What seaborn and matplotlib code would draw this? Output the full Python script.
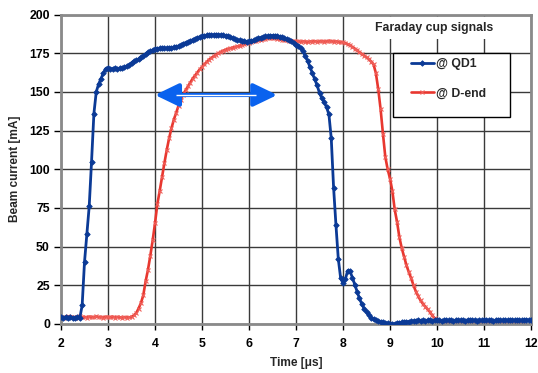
import numpy as np
import pandas as pd
import matplotlib
matplotlib.use("Agg")
import matplotlib.pyplot as plt
from matplotlib.patches import Rectangle
import seaborn as sns

# ---------------- data (sampled every 0.05 us starting at 2.0 us) ----------------
t_start = 2.0
t_step = 0.05

qd1_values = [
    4.5, 4.0, 4.6, 3.8, 4.3, 4.1, 3.7, 4.4, 3.9, 12.0,            # 2.00-2.45
    40.0, 58.0, 76.0, 105.0, 136.0, 150.0, 155.0, 158.5, 162.0, 165.0,  # 2.50-2.95
    165.5, 164.8, 165.0, 165.5, 164.8, 165.2, 165.6, 166.0, 166.5, 167.5,  # 3.00-3.45
    168.8, 169.8, 170.5, 171.2, 172.3, 173.5, 174.6, 175.5, 176.3, 177.0,  # 3.50-3.95
    177.6, 178.0, 178.2, 178.1, 178.3, 178.2, 178.5, 178.4, 178.8, 179.2,  # 4.00-4.45
    179.6, 180.3, 181.2, 181.8, 182.3, 183.0, 183.6, 184.3, 185.0, 185.5,  # 4.50-4.95
    185.9, 186.3, 186.6, 186.8, 186.8, 186.9, 187.0, 186.9, 186.8, 186.6,  # 5.00-5.45
    186.2, 185.8, 185.4, 184.8, 184.2, 183.6, 183.2, 182.8, 182.6, 182.5,  # 5.50-5.95
    182.6, 182.9, 183.4, 184.0, 184.6, 185.1, 185.6, 185.9, 186.1, 186.3,  # 6.00-6.45
    186.4, 186.3, 186.1, 185.7, 185.2, 184.6, 184.0, 183.4, 182.6, 181.6,  # 6.50-6.95
    180.6, 179.8, 178.2, 176.2, 173.0, 169.8, 165.8, 162.0, 158.0, 154.2,  # 7.00-7.45
    149.2, 146.0, 143.4, 140.0, 135.5, 120.0, 88.0, 64.0, 42.0, 29.6,      # 7.50-7.95
    26.4, 29.0, 34.5, 34.0, 30.0, 25.5, 21.0, 16.5, 13.0, 10.0,           # 8.00-8.45
    7.6, 5.6, 4.2, 3.2, 2.3, 1.8, 1.3, 1.0, 0.8, 0.6,                     # 8.50-8.95
    0.3, 0.0, 0.2, 0.6, 0.8, 1.0, 1.2, 1.4, 1.6, 1.8,                     # 9.00-9.45
    2.0, 2.1, 2.3, 2.2, 2.4, 2.1, 2.3, 2.5, 2.2, 2.4,                     # 9.50-9.95
    2.3, 2.5, 2.2, 2.4, 2.6, 2.3, 2.5, 2.2, 2.4, 2.3,                     # 10.00-10.45
    2.5, 2.4, 2.2, 2.6, 2.3, 2.5, 2.4, 2.2, 2.5, 2.3,                     # 10.50-10.95
    2.4, 2.6, 2.3, 2.5, 2.2, 2.4, 2.7, 2.5, 2.3, 2.6,                     # 11.00-11.45
    2.4, 2.5, 2.7, 2.4, 2.6, 2.5, 2.3, 2.6, 2.8, 2.5,                     # 11.50-11.95
    2.6,                                                                  # 12.00
]

dend_values = [
    4.8, 4.2, 4.5, 4.9, 4.3, 4.6, 4.1, 4.7, 5.0, 4.4,                     # 2.00-2.45
    4.6, 4.2, 4.8, 4.5, 4.3, 4.9, 4.4, 4.6, 4.1, 4.7,                     # 2.50-2.95
    4.5, 4.3, 4.8, 4.2, 4.6, 4.4, 4.0, 4.5, 4.2, 4.3,                     # 3.00-3.45
    4.6, 5.5, 7.0, 10.0, 13.5, 18.5, 27.5, 35.0, 44.0, 54.0,              # 3.50-3.95
    65.0, 77.5, 86.0, 95.0, 104.0, 112.5, 120.0, 126.5, 132.0, 136.5,     # 4.00-4.45
    141.0, 145.0, 148.3, 151.0, 153.5, 156.0, 158.5, 160.5, 162.5, 164.5, # 4.50-4.95
    166.0, 167.8, 169.3, 170.8, 172.0, 173.0, 174.0, 175.0, 175.8, 176.6, # 5.00-5.45
    177.2, 177.8, 178.2, 178.6, 179.0, 179.4, 179.8, 180.3, 180.8, 181.3, # 5.50-5.95
    181.8, 182.2, 182.7, 183.1, 183.5, 183.8, 184.1, 184.3, 184.5, 184.6, # 6.00-6.45
    184.6, 184.5, 184.3, 184.1, 183.8, 183.5, 183.3, 183.1, 182.9, 182.8, # 6.50-6.95
    182.6, 182.6, 182.4, 182.7, 182.5, 182.3, 182.6, 182.5, 182.8, 182.4, # 7.00-7.45
    182.6, 182.7, 182.5, 182.6, 182.9, 182.7, 182.5, 182.6, 182.4, 182.2, # 7.50-7.95
    182.0, 181.5, 180.8, 180.0, 179.0, 178.0, 176.8, 175.6, 174.5, 173.4, # 8.00-8.45
    172.3, 171.2, 169.5, 167.8, 162.0, 151.7, 138.8, 123.0, 108.0, 100.0, # 8.50-8.95
    94.0, 86.0, 74.0, 66.0, 56.0, 49.0, 43.6, 38.0, 33.5, 29.5,           # 9.00-9.45
    25.0, 21.0, 18.0, 15.2, 13.0, 11.2, 9.5, 7.8, 5.5, 3.8,               # 9.50-9.95
    2.6, 1.8, 1.1, 0.6, 0.3, 0.1, 0.0, -0.2, 0.1, -0.1,                   # 10.00-10.45
    0.0, -0.2, 0.1, 0.0, -0.1, 0.2, -0.2, 0.0, 0.1, -0.1,                 # 10.50-10.95
    0.0, -0.2, 0.1, -0.1, 0.0, 0.2, -0.1, 0.0, -0.2, 0.1,                 # 11.00-11.45
    0.0, -0.1, 0.1, -0.2, 0.0, 0.1, -0.1, 0.0,                            # 11.50-11.85
]

series_labels = ["@ QD1", "@ D-end"]
x_ticks = [2, 3, 4, 5, 6, 7, 8, 9, 10, 11, 12]
y_ticks = [0, 25, 50, 75, 100, 125, 150, 175, 200]

t_qd1 = t_start + t_step * np.arange(len(qd1_values))
t_dend = t_start + t_step * np.arange(len(dend_values))
df_qd1 = pd.DataFrame({"t": t_qd1, "I": qd1_values})
df_dend = pd.DataFrame({"t": t_dend, "I": dend_values})

# ---------------- style ----------------
sns.set_style("white")
plt.rcParams["font.family"] = ["Liberation Sans", "DejaVu Sans"]
plt.rcParams["font.weight"] = "bold"

W, H = 538, 373
fig = plt.figure(figsize=(W / 100, H / 100), dpi=100)
ax = fig.add_axes([61 / W, 1 - 324 / H, 470 / W, (324 - 14.5) / H])

blue = "#0b3a96"
red = "#e8372f"

sns.lineplot(data=df_qd1, x="t", y="I", ax=ax, color=blue, linewidth=2.0,
             marker="D", markersize=2.8, markeredgewidth=0.6, markeredgecolor=blue,
             label=series_labels[0], estimator=None, sort=False, zorder=3)
sns.lineplot(data=df_dend, x="t", y="I", ax=ax, color=red, linewidth=1.9,
             marker="x", markersize=3.4, markeredgewidth=0.8, markeredgecolor="#f0605a",
             label=series_labels[1], estimator=None, sort=False, zorder=2)

ax.set_xlim(2, 12)
ax.set_ylim(0, 200)
ax.set_xticks(x_ticks)
ax.set_yticks(y_ticks)
ax.grid(True, color="#3a3a3a", linewidth=1.0)
ax.set_axisbelow(True)
for s in ax.spines.values():
    s.set_color("#8a8a8a")
    s.set_linewidth(2.0)

ax.tick_params(axis="both", which="major", labelsize=8.8, colors="black",
               direction="out", length=4, width=1, bottom=True, left=True)
ax.tick_params(axis="x", pad=6)
ax.tick_params(axis="y", pad=3, length=5)
for lab in ax.get_xticklabels() + ax.get_yticklabels():
    lab.set_fontweight("bold")

ax.set_xlabel("Time [\u03bcs]", fontsize=8.6, fontweight="bold", labelpad=5)
ax.set_ylabel("Beam current [mA]", fontsize=8.6, fontweight="bold", labelpad=6)

# title text inside the plot with white background
ax.text(0.794, 0.957, "Faraday cup signals", transform=ax.transAxes,
        ha="center", va="center", fontsize=8.8, fontweight="bold", zorder=6,
        bbox=dict(facecolor="white", edgecolor="none", pad=3.5))

# legend box
ax.add_patch(Rectangle((0.706, 0.668), 0.249, 0.207, transform=ax.transAxes,
                       facecolor="white", edgecolor="black", linewidth=1.0, zorder=5))
leg = ax.legend(loc="upper left", bbox_to_anchor=(0.745, 0.858), frameon=False,
                fontsize=8.8, handlelength=1.85, handletextpad=0.2,
                labelspacing=1.4, borderpad=0, borderaxespad=0)
leg.set_zorder(6)
for txt in leg.get_texts():
    txt.set_fontweight("bold")

# double-headed arrow
arrow_blue = "#0a62ee"
ax.annotate("", xy=(6.6, 148), xytext=(4.0, 148),
            arrowprops=dict(arrowstyle="<|-|>,head_length=1.45,head_width=0.7",
                            color=arrow_blue, lw=3.0, shrinkA=0, shrinkB=0),
            zorder=4)
ax.plot([4.45, 6.15], [148, 148], color="white", lw=1.0, zorder=4.5,
        solid_capstyle="butt")

fig.savefig("out.png", dpi=100)
